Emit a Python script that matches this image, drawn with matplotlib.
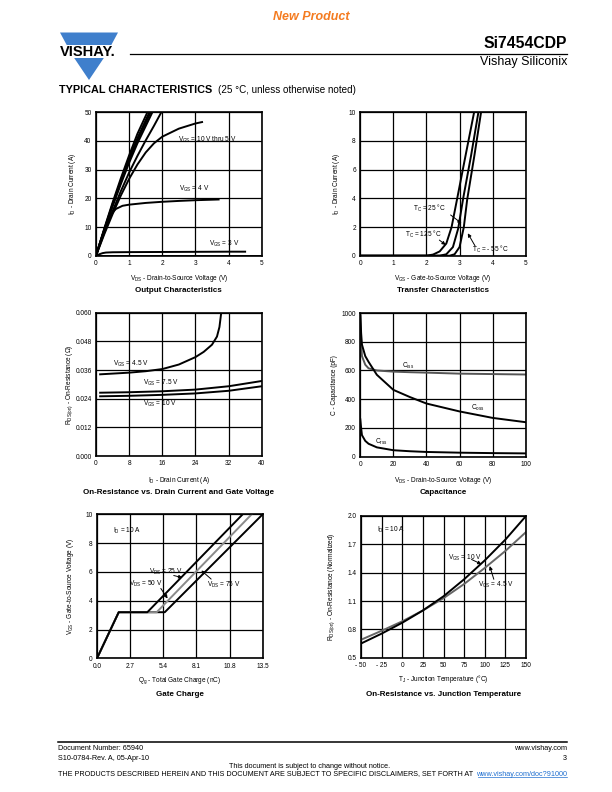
import matplotlib
matplotlib.use('agg')
import matplotlib.pyplot as plt
from matplotlib.patches import Polygon

plt.rcParams['font.family'] = ['Liberation Sans', 'DejaVu Sans']
plt.rcParams['mathtext.fontset'] = 'custom'
plt.rcParams['mathtext.rm'] = 'Liberation Sans'
plt.rcParams['mathtext.it'] = 'Liberation Sans:italic'
plt.rcParams['mathtext.bf'] = 'Liberation Sans:bold'

# Output Characteristics (VDS [V], ID [A])
out_v_a = [0, 0.25, 0.5, 0.75, 1.0, 1.25, 1.55]
out_i_a = [0, 9.5, 18.5, 27, 35, 42.5, 50]
out_v_b = [0, 0.25, 0.5, 0.75, 1.0, 1.25, 1.61]
out_i_b = [0, 9.2, 18, 26.2, 34, 41, 50]
out_v_c = [0, 0.25, 0.5, 0.75, 1.0, 1.25, 1.65]
out_i_c = [0, 9, 17.6, 25.6, 33.2, 40.2, 50]
out_v_d = [0, 0.25, 0.5, 0.75, 1.0, 1.25, 1.70]
out_i_d = [0, 8.8, 17.2, 25, 32.4, 39.2, 50]
out_v_e = [0, 0.25, 0.5, 0.75, 1.0, 1.25, 1.5, 1.75, 1.97]
out_i_e = [0, 8, 15.5, 22.5, 29, 34.8, 40.2, 45.3, 50]
out_v_5 = [0, 0.25, 0.5, 0.75, 1.0, 1.25, 1.5, 1.75, 2.0, 2.5, 3.0, 3.2]
out_i_5 = [0, 7.5, 14.5, 21, 26.8, 31.8, 36, 39.2, 41.5, 44.3, 46.1, 46.6]
out_v_4 = [0, 0.1, 0.2, 0.3, 0.4, 0.5, 0.6, 0.8, 1.0, 1.5, 2.0, 2.5, 3.0, 3.7]
out_i_4 = [0, 3.8, 7.3, 10.4, 13, 15, 16.3, 17.4, 17.8, 18.4, 18.8, 19.1, 19.35, 19.6]
out_v_3 = [0, 0.1, 0.2, 0.3, 0.5, 1, 2, 3, 4, 4.5]
out_i_3 = [0, 0.5, 0.9, 1.1, 1.2, 1.25, 1.3, 1.35, 1.4, 1.4]
out_v_2 = [0, 5]
out_i_2 = [0.05, 0.05]

# Transfer Characteristics (VGS [V], ID [A])
tr_v_125 = [0, 2.0, 2.2, 2.4, 2.6, 2.76, 2.93, 3.2, 3.44, 3.5]
tr_i_125 = [0, 0, 0.08, 0.3, 0.85, 2.0, 4.0, 7.2, 10, 10.8]
tr_v_25 = [0, 2.4, 2.6, 2.8, 2.96, 3.11, 3.35, 3.57, 3.62]
tr_i_25 = [0, 0, 0.1, 0.6, 1.9, 4.0, 7.0, 10, 10.7]
tr_v_m55 = [0, 2.7, 2.85, 3.0, 3.13, 3.23, 3.45, 3.65, 3.7]
tr_i_m55 = [0, 0, 0.1, 0.6, 2.0, 3.9, 7.0, 10, 10.7]

# On-Resistance vs Drain Current (ID [A], RDS [ohm])
ron_i_45 = [1, 4, 8, 12, 16, 20, 24, 26, 28, 29.2, 29.8, 30.3]
ron_r_45 = [0.0342, 0.0345, 0.0349, 0.0355, 0.0364, 0.0383, 0.0414, 0.0436, 0.0466, 0.050, 0.054, 0.061]
ron_i_75 = [1, 8, 16, 24, 32, 40]
ron_r_75 = [0.0265, 0.0267, 0.0271, 0.0278, 0.0292, 0.0314]
ron_i_10 = [1, 8, 16, 24, 32, 40]
ron_r_10 = [0.0250, 0.0252, 0.0256, 0.0262, 0.0273, 0.0292]

# Capacitance (VDS [V], C [pF])
cap_v = [0, 0.5, 1, 3, 5, 10, 20, 30, 40, 60, 80, 100]
cap_ciss = [980, 800, 700, 640, 615, 600, 592, 588, 585, 578, 575, 572]
cap_coss = [1000, 860, 780, 700, 660, 570, 465, 415, 370, 315, 270, 240]
cap_crss = [260, 200, 150, 110, 90, 65, 45, 38, 33, 28, 25, 23]

# Gate Charge (Qg [nC], VGS [V])
gc_q_25 = [0, 1.77, 4.1, 11.87]
gc_q_50 = [0, 1.77, 4.86, 12.6]
gc_q_75 = [0, 1.77, 5.52, 13.5]
gc_v = [0, 3.2, 3.2, 10]

# On-Resistance vs Junction Temperature (TJ [C], normalizado)
tj = [-50, -25, 0, 25, 50, 75, 100, 125, 150]
rn_10 = [0.65, 0.755, 0.87, 1.0, 1.15, 1.33, 1.53, 1.75, 2.0]
rn_45 = [0.69, 0.785, 0.885, 1.0, 1.13, 1.28, 1.45, 1.63, 1.83]

# ejes
xt1 = [0, 1, 2, 3, 4, 5]
yt1 = [0, 10, 20, 30, 40, 50]
xt2 = [0, 1, 2, 3, 4, 5]
yt2 = [0, 2, 4, 6, 8, 10]
xt3 = [0, 8, 16, 24, 32, 40]
yt3 = [0.000, 0.012, 0.024, 0.036, 0.048, 0.060]
xt4 = [0, 20, 40, 60, 80, 100]
yt4 = [0, 200, 400, 600, 800, 1000]
xt5 = [0.0, 2.7, 5.4, 8.1, 10.8, 13.5]
yt5 = [0, 2, 4, 6, 8, 10]
xt6 = [-50, -25, 0, 25, 50, 75, 100, 125, 150]
yt6 = [0.5, 0.8, 1.1, 1.4, 1.7, 2.0]

W, H = 612, 792
fig = plt.figure(figsize=(W / 100, H / 100), dpi=100)

# capa de fondo en pixeles para cabecera, pie y rotulos
bg = fig.add_axes([0, 0, 1, 1])
bg.set_xlim(0, W)
bg.set_ylim(H, 0)
bg.axis('off')

FS = 4.7
GRAY = '#8a8a8a'


def make_ax(l, t, r, b):
    return fig.add_axes([l / W, 1 - b / H, (r - l) / W, (b - t) / H])


def style(ax, xt, yt, xlab, ylab):
    ax.set_xlim(xt[0], xt[-1])
    ax.set_ylim(yt[0], yt[-1])
    ax.set_xticks(xt)
    ax.set_yticks(yt)
    ax.set_xticklabels(xlab)
    ax.set_yticklabels(ylab)
    ax.tick_params(length=0, labelsize=FS, pad=3.2)
    ax.grid(True, color='black', lw=0.9)
    ax.set_axisbelow(True)
    for s in ax.spines.values():
        s.set_linewidth(1.2)


def labels(l, t, r, b, xl, yl, title, xl_y, title_y, yl_x):
    cx = (l + r) / 2
    bg.text(cx, xl_y, xl, ha='center', va='center', fontsize=FS)
    bg.text(cx, title_y, title, ha='center', va='center', fontsize=5.8, fontweight='bold')
    bg.text(yl_x, (t + b) / 2, yl, ha='center', va='center', fontsize=FS, rotation=90)


def arrow(ax, tip, tail):
    ax.annotate('', xy=tip, xytext=tail,
                arrowprops=dict(arrowstyle='-|>', color='black', lw=0.7, mutation_scale=5,
                                shrinkA=0, shrinkB=0))


LW = 1.4

# ---- 1. Output Characteristics
p1 = (96, 112.3, 261.7, 255.7)
ax1 = make_ax(*p1)
style(ax1, xt1, yt1, [str(v) for v in xt1], [str(v) for v in yt1])
for v, i in [(out_v_a, out_i_a), (out_v_b, out_i_b), (out_v_c, out_i_c), (out_v_d, out_i_d),
             (out_v_e, out_i_e), (out_v_5, out_i_5), (out_v_4, out_i_4), (out_v_3, out_i_3),
             (out_v_2, out_i_2)]:
    ax1.plot(v, i, color='black', lw=LW)
ax1.text(2.48, 40.5, r'V$_{\rm GS}$ = 10 V thru 5 V', fontsize=FS, va='center')
ax1.text(2.5, 23.3, r'V$_{\rm GS}$ = 4 V', fontsize=FS, va='center')
ax1.text(3.4, 4.2, r'V$_{\rm GS}$ = 3 V', fontsize=FS, va='center')
labels(*p1, r'V$_{\rm DS}$ - Drain-to-Source Voltage (V)', r'I$_{\rm D}$ - Drain Current (A)',
       'Output Characteristics', 279, 291, 73)

# ---- 2. Transfer Characteristics
p2 = (360.3, 112.3, 525.7, 255.7)
ax2 = make_ax(*p2)
style(ax2, xt2, yt2, [str(v) for v in xt2], [str(v) for v in yt2])
ax2.plot(tr_v_125, tr_i_125, color='black', lw=LW)
ax2.plot(tr_v_25, tr_i_25, color='black', lw=LW)
ax2.plot(tr_v_m55, tr_i_m55, color='black', lw=LW)
ax2.text(1.6, 3.3, r'T$_{\rm C}$ = 25 °C', fontsize=FS, va='center')
arrow(ax2, (3.06, 2.26), (2.73, 2.84))
ax2.text(1.35, 1.5, r'T$_{\rm C}$ = 125 °C', fontsize=FS, va='center')
arrow(ax2, (2.58, 0.75), (2.39, 1.09))
ax2.text(3.37, 0.45, r'T$_{\rm C}$ = - 55 °C', fontsize=FS, va='center')
arrow(ax2, (3.25, 1.56), (3.47, 0.68))
labels(*p2, r'V$_{\rm GS}$ - Gate-to-Source Voltage (V)', r'I$_{\rm D}$ - Drain Current (A)',
       'Transfer Characteristics', 279, 291, 336)

# ---- 3. On-Resistance vs Drain Current
p3 = (96, 312.7, 261.7, 456)
ax3 = make_ax(*p3)
style(ax3, xt3, yt3, [str(v) for v in xt3], ['%.3f' % v for v in yt3])
ax3.plot(ron_i_45, ron_r_45, color='black', lw=LW)
ax3.plot(ron_i_75, ron_r_75, color='black', lw=LW)
ax3.plot(ron_i_10, ron_r_10, color='black', lw=LW)
ax3.text(4.0, 0.0387, r'V$_{\rm GS}$ = 4.5 V', fontsize=FS, va='center')
ax3.text(11.3, 0.0308, r'V$_{\rm GS}$ = 7.5 V', fontsize=FS, va='center')
ax3.text(11.3, 0.0219, r'V$_{\rm GS}$ = 10 V', fontsize=FS, va='center')
labels(*p3, r'I$_{\rm D}$ - Drain Current (A)', r'R$_{\rm DS(on)}$ - On-Resistance (Ω)',
       'On-Resistance vs. Drain Current and Gate Voltage', 481, 493, 70)

# ---- 4. Capacitance
p4 = (360.3, 313, 525.7, 456.7)
ax4 = make_ax(*p4)
style(ax4, xt4, yt4, [str(v) for v in xt4], [str(v) for v in yt4])
ax4.plot(cap_v, cap_ciss, color='#555555', lw=LW)
ax4.plot(cap_v, cap_coss, color='black', lw=LW)
ax4.plot(cap_v, cap_crss, color='black', lw=LW)
ax4.text(25, 635, r'C$_{\rm iss}$', fontsize=FS, va='center')
ax4.text(67, 337, r'C$_{\rm oss}$', fontsize=FS, va='center')
ax4.text(9, 105, r'C$_{\rm rss}$', fontsize=FS, va='center')
labels(*p4, r'V$_{\rm DS}$ - Drain-to-Source Voltage (V)', 'C - Capacitance (pF)',
       'Capacitance', 481, 493, 334)

# ---- 5. Gate Charge
p5 = (97, 514.3, 262.7, 658.3)
ax5 = make_ax(*p5)
style(ax5, xt5, yt5, ['%.1f' % v for v in xt5], [str(v) for v in yt5])
ax5.plot(gc_q_75, gc_v, color='black', lw=LW)
ax5.plot(gc_q_50, gc_v, color=GRAY, lw=LW)
ax5.plot(gc_q_25, gc_v, color='black', lw=LW)
ax5.text(1.33, 8.87, r'I$_{\rm D}$ = 10 A', fontsize=FS, va='center')
ax5.text(4.27, 6.0, r'V$_{\rm DS}$ = 25 V', fontsize=FS, va='center')
arrow(ax5, (6.95, 5.6), (6.25, 5.75))
ax5.text(2.64, 5.2, r'V$_{\rm DS}$ = 50 V', fontsize=FS, va='center')
arrow(ax5, (5.75, 4.15), (5.2, 4.85))
ax5.text(8.94, 5.1, r'V$_{\rm DS}$ = 75 V', fontsize=FS, va='center')
arrow(ax5, (8.5, 6.1), (9.3, 5.5))
labels(*p5, r'Q$_{\rm g}$ - Total Gate Charge (nC)', r'V$_{\rm GS}$ - Gate-to-Source Voltage (V)',
       'Gate Charge', 681, 694, 71)

# ---- 6. On-Resistance vs Junction Temperature
p6 = (361, 516, 526, 657.7)
ax6 = make_ax(*p6)
xl6 = [('- %d' % -v) if v < 0 else str(v) for v in xt6]
style(ax6, xt6, yt6, xl6, ['%.1f' % v for v in yt6])
ax6.plot(tj, rn_45, color='#666666', lw=LW)
ax6.plot(tj, rn_10, color='black', lw=LW)
ax6.text(-31, 1.85, r'I$_{\rm D}$ = 10 A', fontsize=FS, va='center')
ax6.text(56, 1.56, r'V$_{\rm GS}$ = 10 V', fontsize=FS, va='center')
arrow(ax6, (96, 1.49), (84, 1.54))
ax6.text(92, 1.27, r'V$_{\rm GS}$ = 4.5 V', fontsize=FS, va='center')
arrow(ax6, (106, 1.47), (111, 1.33))
labels(*p6, r'T$_{\rm J}$ - Junction Temperature (°C)', r'R$_{\rm DS(on)}$ - On-Resistance (Normalized)',
       'On-Resistance vs. Junction Temperature', 679, 694, 332)

# ---------------- cabecera ----------------
bg.text(311, 17, 'New Product', ha='center', va='center', fontsize=9,
        fontweight='bold', style='italic', color='#F47B20')
blue = '#3F7FCC'
bg.add_patch(Polygon([(60, 32.5), (118, 32.5), (111.3, 45), (66.7, 45)], closed=True,
                     facecolor=blue, edgecolor='none'))
bg.add_patch(Polygon([(74.2, 58), (103.8, 58), (89, 80)], closed=True,
                     facecolor=blue, edgecolor='none'))
bg.text(88, 51.5, 'VISHAY.', ha='center', va='center', fontsize=10.5, fontweight='bold')
bg.plot([130, 567], [54.3, 54.3], color='black', lw=0.9)
bg.text(567, 43.5, 'Si7454CDP', ha='right', va='center', fontsize=11.3, fontweight='bold')
bg.text(567, 62.5, 'Vishay Siliconix', ha='right', va='center', fontsize=9)
bg.text(59, 90, 'TYPICAL CHARACTERISTICS', ha='left', va='center', fontsize=7.8, fontweight='bold')
bg.text(218, 90, '(25 °C, unless otherwise noted)', ha='left', va='center', fontsize=7.1)

# ---------------- pie ----------------
bg.plot([58, 567], [741.5, 741.5], color='black', lw=1.1)
bg.text(58, 749, 'Document Number: 65940', ha='left', va='center', fontsize=5.2)
bg.text(58, 758, 'S10-0784-Rev. A, 05-Apr-10', ha='left', va='center', fontsize=5.2)
bg.text(567, 749, 'www.vishay.com', ha='right', va='center', fontsize=5.2)
bg.text(567, 758, '3', ha='right', va='center', fontsize=5.2)
bg.text(310, 766, 'This document is subject to change without notice.', ha='center', va='center', fontsize=5.2)
bg.text(58, 774, 'THE PRODUCTS DESCRIBED HEREIN AND THIS DOCUMENT ARE SUBJECT TO SPECIFIC DISCLAIMERS, SET FORTH AT',
        ha='left', va='center', fontsize=5.2)
bg.text(567, 774, 'www.vishay.com/doc?91000', ha='right', va='center', fontsize=5.2, color='#1F6FD0')
bg.plot([478, 567], [777.4, 777.4], color='#1F6FD0', lw=0.5)

fig.savefig('out.png', dpi=100)
